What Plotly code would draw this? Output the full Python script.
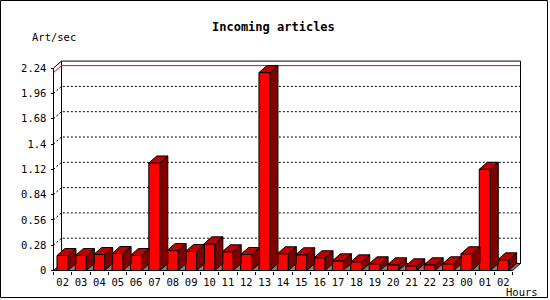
import plotly.graph_objects as go

# ---- data ----
hour_labels = ["02", "03", "04", "05", "06", "07", "08", "09", "10", "11", "12", "13",
               "14", "15", "16", "17", "18", "19", "20", "21", "22", "23", "00", "01", "02"]
art_per_sec = [0.166, 0.166, 0.177, 0.188, 0.166, 1.19, 0.221, 0.21, 0.295, 0.207, 0.177, 2.19,
               0.185, 0.174, 0.141, 0.107, 0.096, 0.074, 0.063, 0.052, 0.063, 0.074, 0.185, 1.12, 0.118]
y_ticks = [0, 0.28, 0.56, 0.84, 1.12, 1.4, 1.68, 1.96, 2.24]
y_tick_text = ["0", "0.28", "0.56", "0.84", "1.12", "1.4", "1.68", "1.96", "2.24"]
title = "Incoming articles"
y_title = "Art/sec"
x_title = "Hours"

# ---- geometry (pixel mapping for the pseudo-3D look) ----
W, H = 550, 300
x0_px, cat_px = 53.5, 18.36          # front axis position, category width
y0_px, unit_px = 270.5, 90.36        # zero line, pixels per unit
depth_x_px, depth_y_px = 8, 7

n = len(art_per_sec)
xr = [-0.5 - x0_px / cat_px, -0.5 + (W - x0_px) / cat_px]
yr = [(y0_px - H) / unit_px, y0_px / unit_px]
dx = depth_x_px / cat_px
dy = depth_y_px / unit_px
ytop = y_ticks[-1]
xl, xrt = -0.5, n - 0.5

FONT = "DejaVu Sans Mono"
fig = go.Figure()

def poly(xs, ys, fill, line="black", width=1):
    fig.add_trace(go.Scatter(x=xs, y=ys, mode="lines", fill="toself", fillcolor=fill,
                             line=dict(color=line, width=width), hoverinfo="skip",
                             showlegend=False))

def pline(xs, ys, color="black", dash="solid", width=1):
    fig.add_trace(go.Scatter(x=xs, y=ys, mode="lines",
                             line=dict(color=color, width=width, dash=dash),
                             hoverinfo="skip", showlegend=False))

# back wall
poly([xl + dx, xrt + dx, xrt + dx, xl + dx, xl + dx],
     [dy, dy, ytop + dy, ytop + dy, dy], "white")
# grid lines (dotted), from front axis diagonally to wall, then across
for v in y_ticks[1:-1]:
    pline([xl, xl + dx, xrt + dx], [v, v + dy, v + dy], dash="2px,2px")
# max line
m = max(art_per_sec)
pline([xl, xl + dx, xrt + dx], [m, m + dy, m + dy], color="red")
# top-left diagonal
pline([xl, xl + dx], [ytop, ytop + dy])
# floor
poly([xl, xrt, xrt + dx, xl + dx, xl], [0, 0, dy, dy, 0], "#808080")

# bars
bl, br = -0.31, 0.29
fx, fy, sx, sy, tx, ty = [], [], [], [], [], []
for i, v in enumerate(art_per_sec):
    L, R = i + bl, i + br
    fx += [L, R, R, L, L, None]; fy += [0, 0, v, v, 0, None]
    sx += [R, R + dx, R + dx, R, R, None]; sy += [0, dy, v + dy, v, 0, None]
    tx += [L, R, R + dx, L + dx, L, None]; ty += [v, v, v + dy, v + dy, v, None]
poly(fx, fy, "#ff0000")
poly(sx, sy, "#800000")
poly(tx, ty, "#c00000")

# front axes
pline([xl, xl], [0, ytop])
pline([xl, xrt], [0, 0])

fig.update_layout(
    width=W, height=H, margin=dict(l=0, r=0, t=0, b=0),
    paper_bgcolor="white", plot_bgcolor="white", showlegend=False,
    xaxis=dict(range=xr, anchor="free", position=1 - y0_px / H,
               tickvals=[i - 0.5 for i in range(n + 1)], showticklabels=False,
               ticks="outside", ticklen=3, tickcolor="black", tickwidth=1,
               showgrid=False, zeroline=False, showline=False, fixedrange=True),
    xaxis2=dict(range=xr, overlaying="x", anchor="free", position=1 - y0_px / H,
                side="bottom", tickvals=list(range(n)), ticktext=hour_labels,
                ticks="", ticklabelstandoff=4,
                tickfont=dict(family=FONT, size=10.5, color="black"),
                showgrid=False, zeroline=False, showline=False),
    yaxis=dict(range=yr, anchor="free", position=x0_px / W,
               tickvals=y_ticks, ticktext=y_tick_text,
               ticks="outside", ticklen=3, tickcolor="black", ticklabelstandoff=2,
               tickfont=dict(family=FONT, size=10.5, color="black"),
               showgrid=False, zeroline=False, showline=False, fixedrange=True),
)
# dummy trace for xaxis2 so its labels render
fig.add_trace(go.Scatter(x=[0], y=[0], xaxis="x2", mode="markers",
                         marker=dict(opacity=0), hoverinfo="skip", showlegend=False))

fig.add_annotation(text="<b>" + title + "</b>", xref="paper", yref="paper",
                   x=273.5 / W, y=1 - 27 / H, xanchor="center", yanchor="middle",
                   showarrow=False, font=dict(family=FONT, size=12, color="black"))
fig.add_annotation(text=y_title, xref="paper", yref="paper",
                   x=30 / W, y=1 - 37 / H, xanchor="left", yanchor="middle",
                   showarrow=False, font=dict(family=FONT, size=10.5, color="black"))
fig.add_annotation(text=x_title, xref="paper", yref="paper",
                   x=504 / W, y=1 - 292 / H, xanchor="left", yanchor="middle",
                   showarrow=False, font=dict(family=FONT, size=10.5, color="black"))
fig.add_shape(type="rect", xref="paper", yref="paper",
              x0=0.5 / W, x1=547.5 / W, y0=1 - 0.5 / H, y1=1 - 297.5 / H,
              line=dict(color="black", width=1))

fig.write_html("out.html")
